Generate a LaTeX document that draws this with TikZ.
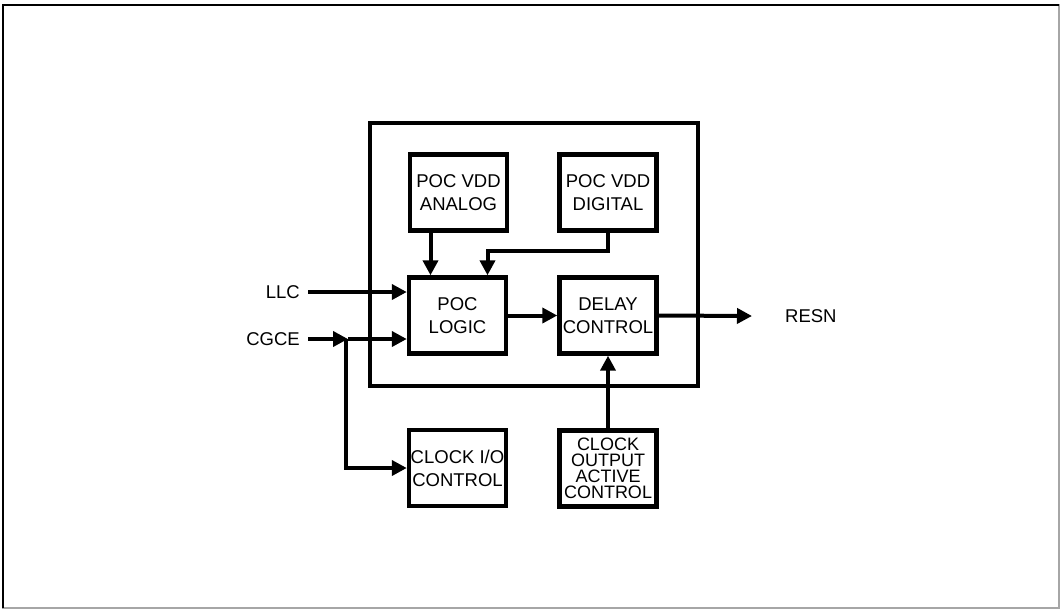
\documentclass[tikz,border=0pt]{standalone}
\usepackage{fontspec}
\setmainfont{Liberation Sans}
\usetikzlibrary{arrows.meta}
\begin{document}
\begin{tikzpicture}[x=1pt,y=-1pt,
  blk/.style={draw,line width=4.4pt,minimum width=97pt,minimum height=76pt,inner sep=0pt,align=center,font=\fontsize{18.5}{23}\selectfont},
  lbl/.style={inner sep=0pt,font=\fontsize{18.5}{23}\selectfont},
  arr/.style={line width=4pt,-{Triangle[length=15pt,width=15pt]}},
  wire/.style={line width=4pt}]
\useasboundingbox (0,0) rectangle (1062,611);
\fill[white] (0,0) rectangle (1062,611);
% outer frame
\draw[gray!70,line width=1.2pt] (3,5) rectangle (1059,608);
\draw[line width=2.8pt] (3,608) -- (3,5) -- (1059,5);
% big box
\draw[line width=4.6pt] (370,123) rectangle (698,386);
% blocks
\node[blk] (analog) at (458.5,192.5) {POC VDD\\ANALOG};
\node[blk] (digital) at (608,192.5) {POC VDD\\DIGITAL};
\node[blk] (logic) at (457.5,315.5) {POC\\LOGIC};
\node[blk] (delay) at (608,315.5) {DELAY\\CONTROL};
\node[blk] (clockio) at (457.5,468) {CLOCK I/O\\CONTROL};
\node[blk,font=\fontsize{18}{16}\selectfont] (clockout) at (608,468.5) {CLOCK\\OUTPUT\\ACTIVE\\CONTROL};
% labels
\node[lbl,anchor=east] (llc) at (300,292) {LLC};
\node[lbl,anchor=east] (cgce) at (300,339) {CGCE};
\node[lbl,anchor=west] (resn) at (785,316) {RESN};
\coordinate (j) at (348,339);
\coordinate (out) at (752,316);
% connectors
\draw[arr] ([xshift=8pt]llc.east) -- (logic.west |- llc.east);
\draw[arr] ([xshift=8pt]cgce.east) -- (j);
\draw[arr] (j) -- (logic.west |- j);
\draw[arr] ([xshift=-1.6pt]j) |- (clockio.west);
\draw[arr] ([xshift=-28pt]analog.south) -- ([xshift=-27pt]logic.north);
\draw[arr] (digital.south) -- ++(0,18) -| ([xshift=30pt]logic.north);
\draw[arr] (logic.east) -- (delay.west);
\draw[arr] (delay.east) -- (out);
\draw[arr] (clockout.north) -- (delay.south);
\end{tikzpicture}
\end{document}
